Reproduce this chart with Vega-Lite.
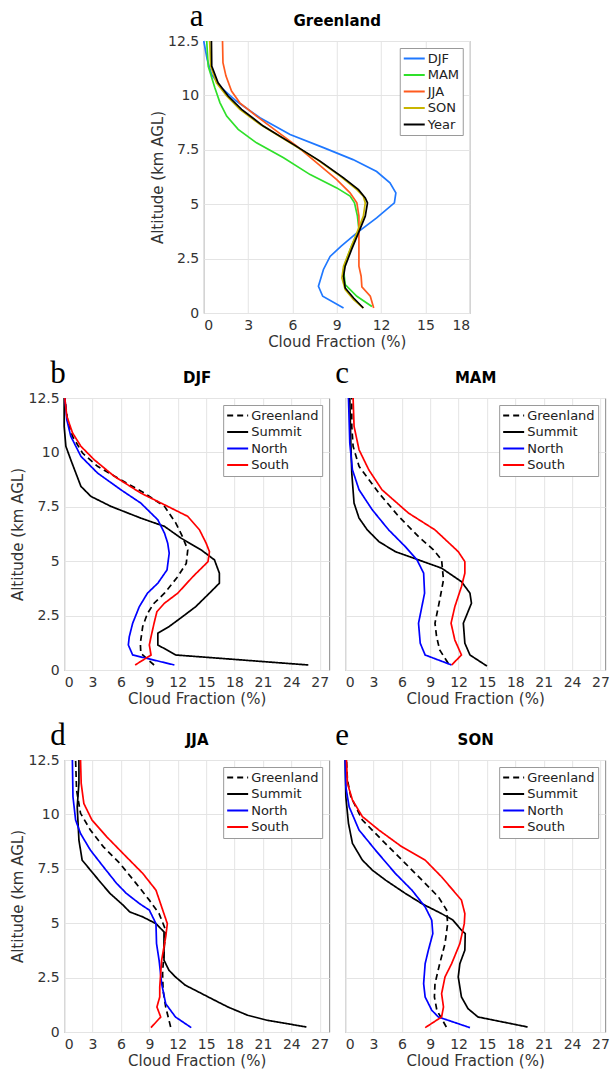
{
"$schema": "https://vega.github.io/schema/vega-lite/v6.json",
"padding": {"left": 10, "top": 0, "right": 0, "bottom": 0},
"config": {
 "font": "DejaVu Sans",
 "view": {"stroke": "#8a8a8a", "strokeWidth": 1},
 "axis": {"labelFont": "DejaVu Sans", "labelFontSize": 14, "labelColor": "#333333", "titleFont": "DejaVu Sans", "titleFontSize": 15, "titleFontWeight": "normal", "titleColor": "#333333", "gridColor": "#e4e4e4", "domain": false, "ticks": false},
 "axisX": {"labelPadding": 5, "titlePadding": 2},
 "axisY": {"labelPadding": 5, "titlePadding": 2},
 "legend": {"orient": "top-right", "offset": 7, "padding": 3, "strokeColor": "#9a9a9a", "fillColor": "#ffffff", "labelFont": "DejaVu Sans", "labelFontSize": 13, "labelColor": "#222222", "symbolType": "stroke", "symbolSize": 440, "symbolStrokeWidth": 2, "clipHeight": 15, "rowPadding": 1.5, "labelOffset": 2},
 "title": {"font": "Liberation Serif", "fontSize": 31, "fontWeight": "normal", "anchor": "start", "frame": "group", "color": "#000000", "offset": 0}
},
"datasets": {
 "a": [
  {"s":"DJF","alt":12.5,"cf":0},{"s":"DJF","alt":11.66,"cf":0.23},{"s":"DJF","alt":10.97,"cf":0.52},{"s":"DJF","alt":10.35,"cf":1.2},{"s":"DJF","alt":9.74,"cf":2.2},{"s":"DJF","alt":8.97,"cf":3.8},{"s":"DJF","alt":8.2,"cf":5.84},{"s":"DJF","alt":7.6,"cf":8.1},{"s":"DJF","alt":7.05,"cf":10.1},{"s":"DJF","alt":6.5,"cf":11.7},{"s":"DJF","alt":5.98,"cf":12.6},{"s":"DJF","alt":5.52,"cf":13.0},{"s":"DJF","alt":5.06,"cf":12.9},{"s":"DJF","alt":4.37,"cf":11.7},{"s":"DJF","alt":3.68,"cf":10.36},{"s":"DJF","alt":3.07,"cf":9.3},{"s":"DJF","alt":2.6,"cf":8.55},{"s":"DJF","alt":2.0,"cf":8.1},{"s":"DJF","alt":1.23,"cf":7.76},{"s":"DJF","alt":0.77,"cf":8.05},{"s":"DJF","alt":0.23,"cf":9.46},
  {"s":"MAM","alt":12.5,"cf":0.2},{"s":"MAM","alt":11.35,"cf":0.3},{"s":"MAM","alt":10.35,"cf":0.75},{"s":"MAM","alt":9.66,"cf":1.1},{"s":"MAM","alt":9.05,"cf":1.55},{"s":"MAM","alt":8.44,"cf":2.33},{"s":"MAM","alt":7.82,"cf":3.57},{"s":"MAM","alt":7.13,"cf":5.4},{"s":"MAM","alt":6.36,"cf":7.2},{"s":"MAM","alt":5.75,"cf":9.0},{"s":"MAM","alt":5.37,"cf":9.9},{"s":"MAM","alt":5.06,"cf":10.2},{"s":"MAM","alt":4.45,"cf":10.4},{"s":"MAM","alt":3.83,"cf":10.5},{"s":"MAM","alt":3.07,"cf":10.0},{"s":"MAM","alt":2.3,"cf":9.57},{"s":"MAM","alt":2.0,"cf":9.46},{"s":"MAM","alt":1.3,"cf":9.57},{"s":"MAM","alt":0.77,"cf":10.36},{"s":"MAM","alt":0.3,"cf":11.38},
  {"s":"JJA","alt":12.5,"cf":1.27},{"s":"JJA","alt":11.5,"cf":1.3},{"s":"JJA","alt":10.9,"cf":1.5},{"s":"JJA","alt":10.2,"cf":1.88},{"s":"JJA","alt":9.66,"cf":2.44},{"s":"JJA","alt":9.05,"cf":3.57},{"s":"JJA","alt":8.36,"cf":4.93},{"s":"JJA","alt":7.67,"cf":6.3},{"s":"JJA","alt":6.9,"cf":7.65},{"s":"JJA","alt":6.13,"cf":9.0},{"s":"JJA","alt":5.52,"cf":9.9},{"s":"JJA","alt":5.06,"cf":10.36},{"s":"JJA","alt":4.45,"cf":10.5},{"s":"JJA","alt":3.53,"cf":10.5},{"s":"JJA","alt":2.15,"cf":10.5},{"s":"JJA","alt":1.69,"cf":10.65},{"s":"JJA","alt":1.2,"cf":10.7},{"s":"JJA","alt":0.77,"cf":11.27},{"s":"JJA","alt":0.23,"cf":11.5},
  {"s":"SON","alt":12.5,"cf":0.4},{"s":"SON","alt":11.35,"cf":0.47},{"s":"SON","alt":10.58,"cf":0.86},{"s":"SON","alt":9.97,"cf":1.55},{"s":"SON","alt":9.36,"cf":2.44},{"s":"SON","alt":8.67,"cf":3.8},{"s":"SON","alt":7.82,"cf":5.84},{"s":"SON","alt":7.06,"cf":7.65},{"s":"SON","alt":6.29,"cf":9.23},{"s":"SON","alt":5.67,"cf":10.36},{"s":"SON","alt":5.37,"cf":10.8},{"s":"SON","alt":5.06,"cf":10.93},{"s":"SON","alt":4.45,"cf":10.8},{"s":"SON","alt":3.68,"cf":10.36},{"s":"SON","alt":2.91,"cf":9.9},{"s":"SON","alt":2.15,"cf":9.46},{"s":"SON","alt":1.61,"cf":9.35},{"s":"SON","alt":1.07,"cf":9.57},{"s":"SON","alt":0.61,"cf":10.14},{"s":"SON","alt":0.23,"cf":10.8},
  {"s":"Year","alt":12.5,"cf":0.52},{"s":"Year","alt":11.35,"cf":0.54},{"s":"Year","alt":10.58,"cf":0.97},{"s":"Year","alt":9.97,"cf":1.65},{"s":"Year","alt":9.36,"cf":2.56},{"s":"Year","alt":8.59,"cf":4.03},{"s":"Year","alt":7.75,"cf":6.06},{"s":"Year","alt":6.98,"cf":7.87},{"s":"Year","alt":6.21,"cf":9.46},{"s":"Year","alt":5.67,"cf":10.47},{"s":"Year","alt":5.29,"cf":10.93},{"s":"Year","alt":5.06,"cf":11.08},{"s":"Year","alt":4.45,"cf":10.93},{"s":"Year","alt":3.68,"cf":10.47},{"s":"Year","alt":2.91,"cf":10.0},{"s":"Year","alt":2.15,"cf":9.57},{"s":"Year","alt":1.69,"cf":9.46},{"s":"Year","alt":1.15,"cf":9.57},{"s":"Year","alt":0.69,"cf":10.14},{"s":"Year","alt":0.23,"cf":10.8}
 ],
 "b": [
  {"s":"Greenland","alt":12.5,"cf":0.07},{"s":"Greenland","alt":11.5,"cf":0.35},{"s":"Greenland","alt":10.74,"cf":0.88},{"s":"Greenland","alt":9.97,"cf":1.94},{"s":"Greenland","alt":9.36,"cf":3.53},{"s":"Greenland","alt":8.74,"cf":6.0},{"s":"Greenland","alt":8.13,"cf":8.47},{"s":"Greenland","alt":7.52,"cf":10.6},{"s":"Greenland","alt":6.75,"cf":11.8},{"s":"Greenland","alt":6.13,"cf":12.5},{"s":"Greenland","alt":5.52,"cf":13.06},{"s":"Greenland","alt":4.9,"cf":12.9},{"s":"Greenland","alt":4.29,"cf":12.0},{"s":"Greenland","alt":3.53,"cf":10.6},{"s":"Greenland","alt":3.07,"cf":9.5},{"s":"Greenland","alt":2.6,"cf":8.8},{"s":"Greenland","alt":2.0,"cf":8.3},{"s":"Greenland","alt":1.23,"cf":8.05},{"s":"Greenland","alt":0.77,"cf":8.1},{"s":"Greenland","alt":0.23,"cf":9.5},
  {"s":"Summit","alt":12.5,"cf":0},{"s":"Summit","alt":11.2,"cf":0},{"s":"Summit","alt":10.28,"cf":0.18},{"s":"Summit","alt":9.66,"cf":0.7},{"s":"Summit","alt":8.44,"cf":1.77},{"s":"Summit","alt":7.98,"cf":2.82},{"s":"Summit","alt":7.52,"cf":4.94},{"s":"Summit","alt":6.98,"cf":8.1},{"s":"Summit","alt":6.6,"cf":10.6},{"s":"Summit","alt":6.06,"cf":12.35},{"s":"Summit","alt":5.52,"cf":14.47},{"s":"Summit","alt":5.06,"cf":15.88},{"s":"Summit","alt":4.45,"cf":16.4},{"s":"Summit","alt":3.99,"cf":16.4},{"s":"Summit","alt":3.53,"cf":15.35},{"s":"Summit","alt":2.91,"cf":13.9},{"s":"Summit","alt":2.45,"cf":12.5},{"s":"Summit","alt":2.0,"cf":11.1},{"s":"Summit","alt":1.69,"cf":9.9},{"s":"Summit","alt":1.15,"cf":9.9},{"s":"Summit","alt":0.69,"cf":11.8},{"s":"Summit","alt":0.23,"cf":25.8},
  {"s":"North","alt":12.5,"cf":0.07},{"s":"North","alt":11.5,"cf":0.28},{"s":"North","alt":10.74,"cf":0.7},{"s":"North","alt":9.82,"cf":1.77},{"s":"North","alt":9.05,"cf":3.53},{"s":"North","alt":8.28,"cf":6.0},{"s":"North","alt":7.67,"cf":8.1},{"s":"North","alt":6.9,"cf":9.9},{"s":"North","alt":6.29,"cf":10.6},{"s":"North","alt":5.83,"cf":10.94},{"s":"North","alt":5.37,"cf":11.1},{"s":"North","alt":4.6,"cf":10.87},{"s":"North","alt":3.99,"cf":9.9},{"s":"North","alt":3.53,"cf":8.8},{"s":"North","alt":2.91,"cf":7.94},{"s":"North","alt":2.15,"cf":7.24},{"s":"North","alt":1.53,"cf":6.88},{"s":"North","alt":1.15,"cf":6.78},{"s":"North","alt":0.69,"cf":7.24},{"s":"North","alt":0.23,"cf":11.65},
  {"s":"South","alt":12.5,"cf":0.07},{"s":"South","alt":11.66,"cf":0.28},{"s":"South","alt":10.9,"cf":0.88},{"s":"South","alt":10.28,"cf":1.77},{"s":"South","alt":9.66,"cf":3.18},{"s":"South","alt":8.9,"cf":5.3},{"s":"South","alt":8.13,"cf":8.1},{"s":"South","alt":7.52,"cf":10.94},{"s":"South","alt":7.06,"cf":13.06},{"s":"South","alt":6.44,"cf":14.3},{"s":"South","alt":5.83,"cf":15.0},{"s":"South","alt":5.44,"cf":15.35},{"s":"South","alt":4.98,"cf":15.2},{"s":"South","alt":4.29,"cf":13.6},{"s":"South","alt":3.53,"cf":12.0},{"s":"South","alt":3.07,"cf":10.6},{"s":"South","alt":2.68,"cf":9.8},{"s":"South","alt":2.15,"cf":9.5},{"s":"South","alt":1.53,"cf":9.18},{"s":"South","alt":1.15,"cf":9.0},{"s":"South","alt":0.69,"cf":9.18},{"s":"South","alt":0.23,"cf":7.5}
 ],
 "c": [
  {"s":"Greenland","alt":12.5,"cf":0.7},{"s":"Greenland","alt":11.2,"cf":0.7},{"s":"Greenland","alt":10.28,"cf":0.84},{"s":"Greenland","alt":9.36,"cf":1.47},{"s":"Greenland","alt":8.13,"cf":3.57},{"s":"Greenland","alt":7.06,"cf":5.66},{"s":"Greenland","alt":6.13,"cf":7.76},{"s":"Greenland","alt":5.52,"cf":9.34},{"s":"Greenland","alt":5.06,"cf":10.2},{"s":"Greenland","alt":4.14,"cf":10.4},{"s":"Greenland","alt":3.22,"cf":10.0},{"s":"Greenland","alt":2.15,"cf":9.5},{"s":"Greenland","alt":1.53,"cf":9.67},{"s":"Greenland","alt":0.92,"cf":10.0},{"s":"Greenland","alt":0.31,"cf":10.9},
  {"s":"Summit","alt":12.5,"cf":0.49},{"s":"Summit","alt":10.43,"cf":0.6},{"s":"Summit","alt":9.05,"cf":0.7},{"s":"Summit","alt":7.67,"cf":0.94},{"s":"Summit","alt":6.98,"cf":1.47},{"s":"Summit","alt":6.44,"cf":2.34},{"s":"Summit","alt":5.9,"cf":3.57},{"s":"Summit","alt":5.44,"cf":5.3},{"s":"Summit","alt":5.06,"cf":7.76},{"s":"Summit","alt":4.68,"cf":10.2},{"s":"Summit","alt":4.06,"cf":12.3},{"s":"Summit","alt":3.53,"cf":13.2},{"s":"Summit","alt":3.07,"cf":13.36},{"s":"Summit","alt":2.15,"cf":12.5},{"s":"Summit","alt":1.23,"cf":12.66},{"s":"Summit","alt":0.69,"cf":13.2},{"s":"Summit","alt":0.18,"cf":15.0},
  {"s":"North","alt":12.5,"cf":0.35},{"s":"North","alt":10.43,"cf":0.49},{"s":"North","alt":9.2,"cf":0.77},{"s":"North","alt":8.28,"cf":1.47},{"s":"North","alt":7.36,"cf":2.87},{"s":"North","alt":6.44,"cf":4.6},{"s":"North","alt":5.67,"cf":6.36},{"s":"North","alt":5.06,"cf":7.6},{"s":"North","alt":4.45,"cf":8.3},{"s":"North","alt":3.53,"cf":8.4},{"s":"North","alt":2.15,"cf":7.76},{"s":"North","alt":1.23,"cf":7.94},{"s":"North","alt":0.69,"cf":8.46},{"s":"North","alt":0.23,"cf":11.26},
  {"s":"South","alt":12.5,"cf":0.84},{"s":"South","alt":11.2,"cf":0.94},{"s":"South","alt":10.12,"cf":1.47},{"s":"South","alt":9.2,"cf":2.5},{"s":"South","alt":8.28,"cf":3.9},{"s":"South","alt":7.21,"cf":6.7},{"s":"South","alt":6.44,"cf":9.5},{"s":"South","alt":5.44,"cf":11.96},{"s":"South","alt":4.98,"cf":12.66},{"s":"South","alt":4.45,"cf":12.66},{"s":"South","alt":3.83,"cf":12.3},{"s":"South","alt":2.91,"cf":11.6},{"s":"South","alt":2.15,"cf":11.2},{"s":"South","alt":1.38,"cf":11.6},{"s":"South","alt":0.69,"cf":12.3},{"s":"South","alt":0.23,"cf":11.26}
 ],
 "d": [
  {"s":"Greenland","alt":12.5,"cf":1.21},{"s":"Greenland","alt":11.12,"cf":1.31},{"s":"Greenland","alt":10.05,"cf":1.73},{"s":"Greenland","alt":9.28,"cf":2.77},{"s":"Greenland","alt":8.51,"cf":4.15},{"s":"Greenland","alt":7.75,"cf":5.88},{"s":"Greenland","alt":6.83,"cf":7.6},{"s":"Greenland","alt":6.06,"cf":9.0},{"s":"Greenland","alt":5.44,"cf":10.03},{"s":"Greenland","alt":4.68,"cf":10.73},{"s":"Greenland","alt":3.76,"cf":10.55},{"s":"Greenland","alt":2.68,"cf":10.4},{"s":"Greenland","alt":1.92,"cf":10.45},{"s":"Greenland","alt":1.15,"cf":10.73},{"s":"Greenland","alt":0.23,"cf":11.25},
  {"s":"Summit","alt":12.5,"cf":1.56},{"s":"Summit","alt":11.43,"cf":1.56},{"s":"Summit","alt":10.35,"cf":1.38},{"s":"Summit","alt":8.82,"cf":1.56},{"s":"Summit","alt":7.9,"cf":1.9},{"s":"Summit","alt":7.44,"cf":2.77},{"s":"Summit","alt":6.9,"cf":3.8},{"s":"Summit","alt":6.37,"cf":4.84},{"s":"Summit","alt":5.83,"cf":6.23},{"s":"Summit","alt":5.52,"cf":6.92},{"s":"Summit","alt":5.29,"cf":8.3},{"s":"Summit","alt":4.98,"cf":9.7},{"s":"Summit","alt":4.6,"cf":10.55},{"s":"Summit","alt":3.3,"cf":10.55},{"s":"Summit","alt":2.84,"cf":11.07},{"s":"Summit","alt":2.53,"cf":11.76},{"s":"Summit","alt":2.15,"cf":12.8},{"s":"Summit","alt":1.92,"cf":13.84},{"s":"Summit","alt":1.61,"cf":15.22},{"s":"Summit","alt":1.15,"cf":17.3},{"s":"Summit","alt":0.77,"cf":19.38},{"s":"Summit","alt":0.54,"cf":21.45},{"s":"Summit","alt":0.23,"cf":25.6},
  {"s":"North","alt":12.5,"cf":0.87},{"s":"North","alt":10.81,"cf":0.93},{"s":"North","alt":9.74,"cf":1.21},{"s":"North","alt":9.12,"cf":1.73},{"s":"North","alt":8.36,"cf":2.77},{"s":"North","alt":7.59,"cf":4.15},{"s":"North","alt":6.83,"cf":5.54},{"s":"North","alt":6.37,"cf":6.57},{"s":"North","alt":5.9,"cf":7.96},{"s":"North","alt":5.6,"cf":9.0},{"s":"North","alt":4.98,"cf":9.7},{"s":"North","alt":4.06,"cf":9.76},{"s":"North","alt":3.3,"cf":10.03},{"s":"North","alt":2.22,"cf":10.3},{"s":"North","alt":1.3,"cf":10.73},{"s":"North","alt":0.69,"cf":11.76},{"s":"North","alt":0.2,"cf":13.43},
  {"s":"South","alt":12.5,"cf":1.73},{"s":"South","alt":11.43,"cf":1.8},{"s":"South","alt":10.5,"cf":2.08},{"s":"South","alt":9.74,"cf":2.94},{"s":"South","alt":8.97,"cf":4.5},{"s":"South","alt":8.05,"cf":6.57},{"s":"South","alt":7.29,"cf":8.3},{"s":"South","alt":6.52,"cf":9.7},{"s":"South","alt":5.75,"cf":10.3},{"s":"South","alt":4.98,"cf":10.9},{"s":"South","alt":4.37,"cf":10.73},{"s":"South","alt":3.3,"cf":10.3},{"s":"South","alt":2.07,"cf":10.1},{"s":"South","alt":1.61,"cf":10.1},{"s":"South","alt":1.15,"cf":9.8},{"s":"South","alt":0.69,"cf":10.2},{"s":"South","alt":0.2,"cf":9.17}
 ],
 "e": [
  {"s":"Greenland","alt":12.5,"cf":0.14},{"s":"Greenland","alt":11.58,"cf":0.24},{"s":"Greenland","alt":10.81,"cf":0.6},{"s":"Greenland","alt":9.74,"cf":1.82},{"s":"Greenland","alt":8.82,"cf":3.9},{"s":"Greenland","alt":7.75,"cf":6.36},{"s":"Greenland","alt":6.83,"cf":8.46},{"s":"Greenland","alt":6.21,"cf":9.86},{"s":"Greenland","alt":5.6,"cf":10.73},{"s":"Greenland","alt":4.98,"cf":10.84},{"s":"Greenland","alt":4.06,"cf":10.56},{"s":"Greenland","alt":3.14,"cf":10.0},{"s":"Greenland","alt":2.22,"cf":9.5},{"s":"Greenland","alt":1.61,"cf":9.44},{"s":"Greenland","alt":1.0,"cf":9.7},{"s":"Greenland","alt":0.23,"cf":10.7},
  {"s":"Summit","alt":12.5,"cf":0},{"s":"Summit","alt":10.81,"cf":0.07},{"s":"Summit","alt":9.59,"cf":0.35},{"s":"Summit","alt":8.67,"cf":0.77},{"s":"Summit","alt":7.9,"cf":1.82},{"s":"Summit","alt":7.44,"cf":2.87},{"s":"Summit","alt":6.98,"cf":4.27},{"s":"Summit","alt":6.37,"cf":6.36},{"s":"Summit","alt":5.9,"cf":8.1},{"s":"Summit","alt":5.44,"cf":10.2},{"s":"Summit","alt":5.14,"cf":11.4},{"s":"Summit","alt":4.68,"cf":12.3},{"s":"Summit","alt":4.52,"cf":12.7},{"s":"Summit","alt":3.76,"cf":12.66},{"s":"Summit","alt":3.14,"cf":12.13},{"s":"Summit","alt":2.53,"cf":11.96},{"s":"Summit","alt":1.61,"cf":12.3},{"s":"Summit","alt":1.07,"cf":13.0},{"s":"Summit","alt":0.69,"cf":14.05},{"s":"Summit","alt":0.23,"cf":19.3},
  {"s":"North","alt":12.5,"cf":0},{"s":"North","alt":11.27,"cf":0.07},{"s":"North","alt":10.35,"cf":0.42},{"s":"North","alt":9.28,"cf":1.47},{"s":"North","alt":8.36,"cf":3.2},{"s":"North","alt":7.29,"cf":5.3},{"s":"North","alt":6.52,"cf":7.06},{"s":"North","alt":5.75,"cf":8.46},{"s":"North","alt":5.14,"cf":9.16},{"s":"North","alt":4.52,"cf":9.27},{"s":"North","alt":3.76,"cf":8.8},{"s":"North","alt":3.14,"cf":8.46},{"s":"North","alt":2.22,"cf":8.3},{"s":"North","alt":1.61,"cf":8.46},{"s":"North","alt":1.0,"cf":9.16},{"s":"North","alt":0.69,"cf":9.86},{"s":"North","alt":0.2,"cf":13.2},
  {"s":"South","alt":12.5,"cf":0.14},{"s":"South","alt":11.43,"cf":0.24},{"s":"South","alt":10.66,"cf":0.77},{"s":"South","alt":9.9,"cf":1.82},{"s":"South","alt":9.28,"cf":3.57},{"s":"South","alt":8.51,"cf":6.0},{"s":"South","alt":7.9,"cf":8.46},{"s":"South","alt":7.13,"cf":10.2},{"s":"South","alt":6.06,"cf":12.3},{"s":"South","alt":5.44,"cf":12.66},{"s":"South","alt":4.98,"cf":12.6},{"s":"South","alt":4.06,"cf":12.13},{"s":"South","alt":3.14,"cf":11.26},{"s":"South","alt":2.53,"cf":10.56},{"s":"South","alt":1.76,"cf":10.2},{"s":"South","alt":1.15,"cf":10.4},{"s":"South","alt":0.69,"cf":10.2},{"s":"South","alt":0.2,"cf":8.46}
 ]
},
"center": true,
"spacing": 7,
"resolve": {"scale": {"x": "independent", "y": "independent", "color": "independent", "strokeDash": "independent"}, "legend": {"color": "independent", "strokeDash": "independent"}},
"vconcat": [
 {
  "width": 266, "height": 272,
  "data": {"name": "a"},
  "title": {"text": "a", "dx": -14, "dy": 24},
  "layer": [
   {"mark": {"type": "line", "strokeWidth": 1.7},
    "encoding": {
     "x": {"field": "cf", "type": "quantitative", "scale": {"domain": [0, 18], "nice": false}, "axis": {"title": "Cloud Fraction (%)", "values": [0, 3, 6, 9, 12, 15, 18]}},
     "y": {"field": "alt", "type": "quantitative", "scale": {"domain": [0, 12.5], "nice": false}, "axis": {"title": "Altitude (km AGL)", "values": [0, 2.5, 5, 7.5, 10, 12.5], "format": ".3~g"}},
     "color": {"field": "s", "type": "nominal", "scale": {"domain": ["DJF", "MAM", "JJA", "SON", "Year"], "range": ["#1f78ff", "#2fe02a", "#ff5a1e", "#c9b500", "#000000"]}, "legend": {"title": null, "orient": "top-right"}},
     "order": {"field": "alt", "type": "quantitative"}
    }},
   {"mark": {"type": "line", "opacity": 0},
    "encoding": {
     "x": {"field": "cf", "type": "quantitative", "axis": {"orient": "top", "title": "Greenland", "labels": false, "grid": false, "titleFontWeight": "bold", "titleColor": "#000000", "titlePadding": 13}},
     "y": {"field": "alt", "type": "quantitative", "axis": {"title": "Altitude (km AGL)", "values": [0, 2.5, 5, 7.5, 10, 12.5], "format": ".3~g"}}
    }}
  ],
  "resolve": {"axis": {"x": "independent"}}
 },
 {
  "spacing": 12,
  "resolve": {"scale": {"x": "independent", "y": "independent", "color": "independent", "strokeDash": "independent"}, "legend": {"color": "independent", "strokeDash": "independent"}},
  "vconcat": [
 {
  "resolve": {"scale": {"x": "independent", "y": "independent", "color": "independent", "strokeDash": "independent"}, "legend": {"color": "independent", "strokeDash": "independent"}},
  "hconcat": [
   {
    "width": 265, "height": 272,
    "data": {"name": "b"},
    "title": {"text": "b", "dx": -14, "dy": 24},
    "layer": [
     {"mark": {"type": "line", "strokeWidth": 1.7},
      "encoding": {
       "x": {"field": "cf", "type": "quantitative", "scale": {"domain": [0, 28], "nice": false}, "axis": {"title": "Cloud Fraction (%)", "values": [0, 3, 6, 9, 12, 15, 18, 21, 24, 27]}},
       "y": {"field": "alt", "type": "quantitative", "scale": {"domain": [0, 12.5], "nice": false}, "axis": {"title": "Altitude (km AGL)", "values": [0, 2.5, 5, 7.5, 10, 12.5], "format": ".3~g"}},
       "color": {"field": "s", "type": "nominal", "scale": {"domain": ["Greenland", "Summit", "North", "South"], "range": ["#000000", "#000000", "#0000ff", "#ff0000"]}, "legend": {"title": null, "orient": "top-right"}},
       "strokeDash": {"field": "s", "type": "nominal", "scale": {"domain": ["Greenland", "Summit", "North", "South"], "range": [[6, 4], [1, 0], [1, 0], [1, 0]]}, "legend": {"title": null, "orient": "top-right"}},
       "order": {"field": "alt", "type": "quantitative"}
      }},
     {"mark": {"type": "line", "opacity": 0},
      "encoding": {
       "x": {"field": "cf", "type": "quantitative", "axis": {"orient": "top", "title": "DJF", "labels": false, "grid": false, "titleFontWeight": "bold", "titleColor": "#000000", "titlePadding": 13}},
       "y": {"field": "alt", "type": "quantitative", "axis": {"title": "Altitude (km AGL)", "values": [0, 2.5, 5, 7.5, 10, 12.5], "format": ".3~g"}}
      }}
    ],
    "resolve": {"axis": {"x": "independent"}}
   },
   {
    "width": 260, "height": 272,
    "data": {"name": "c"},
    "title": {"text": "c", "dx": -10, "dy": 24},
    "layer": [
     {"mark": {"type": "line", "strokeWidth": 1.7},
      "encoding": {
       "x": {"field": "cf", "type": "quantitative", "scale": {"domain": [0, 27.5], "nice": false}, "axis": {"title": "Cloud Fraction (%)", "values": [0, 3, 6, 9, 12, 15, 18, 21, 24, 27]}},
       "y": {"field": "alt", "type": "quantitative", "scale": {"domain": [0, 12.5], "nice": false}, "axis": {"title": null, "labels": false, "values": [0, 2.5, 5, 7.5, 10, 12.5]}},
       "color": {"field": "s", "type": "nominal", "scale": {"domain": ["Greenland", "Summit", "North", "South"], "range": ["#000000", "#000000", "#0000ff", "#ff0000"]}, "legend": {"title": null, "orient": "top-right"}},
       "strokeDash": {"field": "s", "type": "nominal", "scale": {"domain": ["Greenland", "Summit", "North", "South"], "range": [[6, 4], [1, 0], [1, 0], [1, 0]]}, "legend": {"title": null, "orient": "top-right"}},
       "order": {"field": "alt", "type": "quantitative"}
      }},
     {"mark": {"type": "line", "opacity": 0},
      "encoding": {
       "x": {"field": "cf", "type": "quantitative", "axis": {"orient": "top", "title": "MAM", "labels": false, "grid": false, "titleFontWeight": "bold", "titleColor": "#000000", "titlePadding": 13}},
       "y": {"field": "alt", "type": "quantitative", "axis": {"title": null, "labels": false, "values": [0, 2.5, 5, 7.5, 10, 12.5]}}
      }}
    ],
    "resolve": {"axis": {"x": "independent"}}
   }
  ],
  "spacing": 4
 },
 {
  "resolve": {"scale": {"x": "independent", "y": "independent", "color": "independent", "strokeDash": "independent"}, "legend": {"color": "independent", "strokeDash": "independent"}},
  "hconcat": [
   {
    "width": 265, "height": 272,
    "data": {"name": "d"},
    "title": {"text": "d", "dx": -14, "dy": 24},
    "layer": [
     {"mark": {"type": "line", "strokeWidth": 1.7},
      "encoding": {
       "x": {"field": "cf", "type": "quantitative", "scale": {"domain": [0, 28], "nice": false}, "axis": {"title": "Cloud Fraction (%)", "values": [0, 3, 6, 9, 12, 15, 18, 21, 24, 27]}},
       "y": {"field": "alt", "type": "quantitative", "scale": {"domain": [0, 12.5], "nice": false}, "axis": {"title": "Altitude (km AGL)", "values": [0, 2.5, 5, 7.5, 10, 12.5], "format": ".3~g"}},
       "color": {"field": "s", "type": "nominal", "scale": {"domain": ["Greenland", "Summit", "North", "South"], "range": ["#000000", "#000000", "#0000ff", "#ff0000"]}, "legend": {"title": null, "orient": "top-right"}},
       "strokeDash": {"field": "s", "type": "nominal", "scale": {"domain": ["Greenland", "Summit", "North", "South"], "range": [[6, 4], [1, 0], [1, 0], [1, 0]]}, "legend": {"title": null, "orient": "top-right"}},
       "order": {"field": "alt", "type": "quantitative"}
      }},
     {"mark": {"type": "line", "opacity": 0},
      "encoding": {
       "x": {"field": "cf", "type": "quantitative", "axis": {"orient": "top", "title": "JJA", "labels": false, "grid": false, "titleFontWeight": "bold", "titleColor": "#000000", "titlePadding": 13}},
       "y": {"field": "alt", "type": "quantitative", "axis": {"title": "Altitude (km AGL)", "values": [0, 2.5, 5, 7.5, 10, 12.5], "format": ".3~g"}}
      }}
    ],
    "resolve": {"axis": {"x": "independent"}}
   },
   {
    "width": 260, "height": 272,
    "data": {"name": "e"},
    "title": {"text": "e", "dx": -10, "dy": 24},
    "layer": [
     {"mark": {"type": "line", "strokeWidth": 1.7},
      "encoding": {
       "x": {"field": "cf", "type": "quantitative", "scale": {"domain": [0, 27.5], "nice": false}, "axis": {"title": "Cloud Fraction (%)", "values": [0, 3, 6, 9, 12, 15, 18, 21, 24, 27]}},
       "y": {"field": "alt", "type": "quantitative", "scale": {"domain": [0, 12.5], "nice": false}, "axis": {"title": null, "labels": false, "values": [0, 2.5, 5, 7.5, 10, 12.5]}},
       "color": {"field": "s", "type": "nominal", "scale": {"domain": ["Greenland", "Summit", "North", "South"], "range": ["#000000", "#000000", "#0000ff", "#ff0000"]}, "legend": {"title": null, "orient": "top-right"}},
       "strokeDash": {"field": "s", "type": "nominal", "scale": {"domain": ["Greenland", "Summit", "North", "South"], "range": [[6, 4], [1, 0], [1, 0], [1, 0]]}, "legend": {"title": null, "orient": "top-right"}},
       "order": {"field": "alt", "type": "quantitative"}
      }},
     {"mark": {"type": "line", "opacity": 0},
      "encoding": {
       "x": {"field": "cf", "type": "quantitative", "axis": {"orient": "top", "title": "SON", "labels": false, "grid": false, "titleFontWeight": "bold", "titleColor": "#000000", "titlePadding": 13}},
       "y": {"field": "alt", "type": "quantitative", "axis": {"title": null, "labels": false, "values": [0, 2.5, 5, 7.5, 10, 12.5]}}
      }}
    ],
    "resolve": {"axis": {"x": "independent"}}
   }
  ],
  "spacing": 4
 }
  ]
 }
]
}
